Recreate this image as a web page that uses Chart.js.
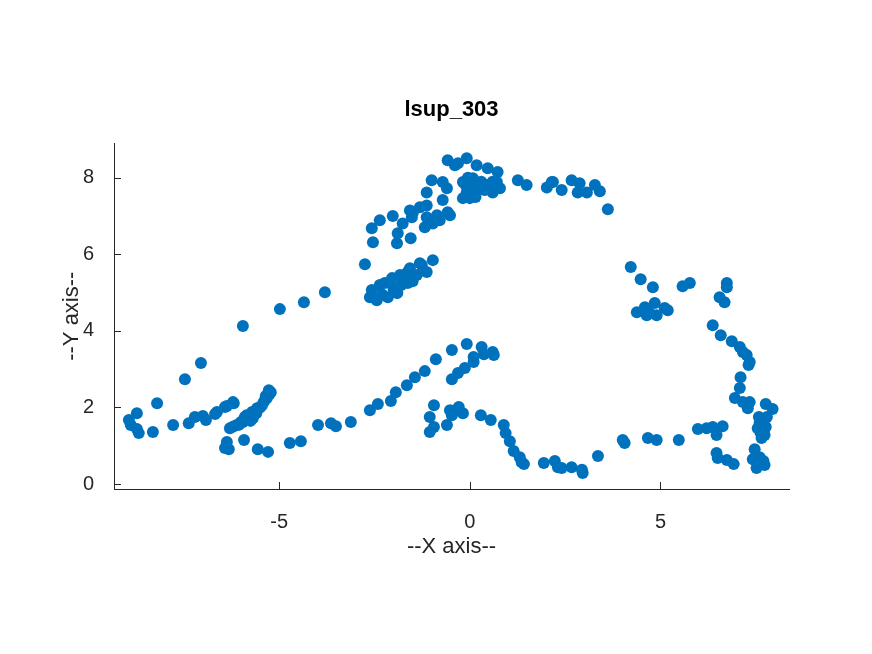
<!DOCTYPE html>
<html>
<head>
<meta charset="utf-8">
<script src="https://cdn.jsdelivr.net/npm/chart.js@4/dist/chart.umd.min.js"></script>
<style>html,body{margin:0;padding:0;background:#fff;}canvas{display:block;}</style>
</head>
<body>
<canvas id="c" width="872" height="654" style="width:872px;height:654px"></canvas>
<script>
// ---- data ----
const leftX = [-8.94,-8.89,-8.73,-8.73,-8.68,-8.31,-8.20,-7.78,-7.47,-7.05,
  -7.37,-7.21,-7.00,-6.92,-6.68,-6.63,-6.42,-6.37,-6.21,-6.19,
  -5.95,-6.29,-6.11,-5.95,-5.82,-5.69,-5.71,-5.58,-5.45,-5.32,
  -5.27,-5.22,-6.37,-6.42,-6.32,-5.92,-5.56,-5.29,-4.72,-4.43,
  -3.98,-3.64,-3.51,-3.12,-4.98,-4.35,-3.80,
  -6.20,-6.05,-5.90,-5.85,-5.75,-5.60,-5.50,-5.40,-5.35,-5.25,-6.00];
const leftY = [1.67,1.54,1.85,1.44,1.33,1.36,2.11,1.54,2.74,3.16,
  1.59,1.75,1.78,1.67,1.83,1.88,2.01,2.04,2.14,2.11,
  4.13,1.46,1.54,1.62,1.72,1.72,1.88,1.98,2.06,2.25,
  2.45,2.40,1.10,0.94,0.91,1.15,0.91,0.84,1.07,1.12,
  1.54,1.59,1.51,1.62,4.57,4.75,5.01,
  1.50,1.55,1.75,1.80,1.65,1.85,2.00,2.15,2.30,2.35,1.62];

const lowerX = [-2.62,-2.41,-2.07,-1.94,-1.65,-1.44,-1.18,-0.89,-0.47,-0.08,
  0.31,0.37,0.60,0.63,0.10,0.10,-0.13,-0.31,-0.47,-0.94,
  -1.05,-0.94,-1.05,-0.60,-0.52,-0.47,-0.29,-0.18,0.29,0.55,
  0.89,0.94,1.05,1.15,1.31,1.36,1.42,1.94,2.23,2.31,
  2.41,2.67,2.94,2.96,3.36,4.01,4.06,4.67,4.90,5.48];
const lowerY = [1.93,2.09,2.17,2.40,2.58,2.79,2.95,3.26,3.50,3.66,
  3.58,3.39,3.45,3.37,3.32,3.19,3.03,2.90,2.74,2.06,
  1.75,1.49,1.36,1.54,1.93,1.80,2.01,1.85,1.80,1.67,
  1.54,1.33,1.12,0.86,0.70,0.57,0.52,0.55,0.60,0.44,
  0.42,0.44,0.37,0.29,0.73,1.15,1.07,1.20,1.15,1.15];

const rightX = [5.98,6.21,6.37,6.63,6.47,6.47,6.50,6.74,6.92,7.47,
  7.42,7.55,7.68,7.52,7.73,6.37,6.58,6.87,7.08,7.16,
  7.26,7.34,7.31,7.10,7.08,6.95,7.16,7.34,7.29,7.76,
  7.94,7.58,7.79,7.55,7.73,7.65,7.76,
  7.60,7.70,7.62,7.70,7.60,7.70];
const rightY = [1.44,1.46,1.49,1.51,1.28,0.81,0.68,0.63,0.52,0.91,
  0.65,0.50,0.55,0.42,0.50,4.15,3.89,3.73,3.58,3.45,
  3.37,3.19,3.11,2.79,2.51,2.25,2.14,2.14,1.98,2.09,
  1.96,1.75,1.75,1.46,1.28,1.20,1.49,
  1.60,1.40,1.35,1.65,0.70,0.60];

const upperRightX = [4.22,4.48,4.80,5.58,5.77,6.74,6.74,6.55,6.68,4.38,4.59,4.85,5.11,5.19,4.72,4.90,4.64];
const upperRightY = [5.67,5.35,5.14,5.17,5.25,5.25,5.14,4.88,4.75,4.49,4.62,4.73,4.60,4.54,4.46,4.41,4.41];

const arcRightX = [2.15,2.41,2.67,2.88,2.83,3.07,3.28,3.41,3.62,1.26,1.49,2.02,2.18];
const arcRightY = [7.89,7.68,7.94,7.86,7.62,7.62,7.81,7.65,7.18,7.94,7.81,7.75,7.89];

const arcLeftX = [-0.58,-0.31,-0.08,-0.39,0.18,0.47,0.73,-1.00,-0.71,-0.60,
  -0.18,0.08,0.18,-0.08,-0.18,0.00,0.45,0.71,0.79,0.60,
  0.39,-1.13,-0.71,-0.58,-0.52,-1.13,-1.31,-1.49,-1.13,-0.86,
  -1.57,-1.52,-2.02,-2.36,-2.57,-1.76,-1.89,-1.18,-0.97,-0.79,
  -1.55,-1.91,-2.54,-2.75,-1.26,-1.13,-1.39,-1.63,-1.83,-2.04,
  -2.23,-2.36,-2.57,-2.62,-2.44,-2.15,-1.91,-1.63,-1.70,-0.97,
  -1.31,-1.57,
  0.00,0.10,-0.10,0.25,0.30,-0.05,0.55,0.60,0.15,
  -2.00,-1.80,-1.60,-1.90,-2.30,-1.50,-1.75];
const arcLeftY = [8.46,8.38,8.51,8.33,8.33,8.25,8.15,7.94,7.89,7.73,
  7.89,7.99,7.81,7.62,7.47,7.47,7.81,7.89,7.73,7.62,
  7.68,7.62,7.42,7.10,7.02,7.28,7.23,7.10,6.97,7.02,
  7.15,6.97,7.00,6.89,6.68,6.81,6.55,6.71,6.81,6.89,
  6.42,6.29,6.32,5.74,5.72,5.54,5.46,5.54,5.46,5.38,
  5.25,5.20,5.07,4.88,4.80,4.88,4.99,5.25,5.33,5.85,
  5.77,5.64,
  7.60,7.70,7.80,7.75,7.90,8.00,7.75,7.90,7.50,
  5.10,5.20,5.40,5.00,4.95,5.30,5.35];

const xTickValues = [-5, 0, 5];
const yTickValues = [0, 2, 4, 6, 8];
const xRange = [-9.33, 8.37];
const yRange = [-0.13, 8.9];
const chartTitle = 'lsup_303';
const xLabel = '--X axis--';
const yLabel = '--Y axis--';

// ---- build points ----
const groupsX = [leftX, lowerX, rightX, upperRightX, arcRightX, arcLeftX];
const groupsY = [leftY, lowerY, rightY, upperRightY, arcRightY, arcLeftY];
const points = [];
groupsX.forEach((gx, gi) => gx.forEach((v, i) => points.push({x: v, y: groupsY[gi][i]})));

const FONT = '"Liberation Sans", Arial, Helvetica, sans-serif';
const AXIS_COLOR = '#262626';

const tickMarks = {
  id: 'tickMarks',
  afterDraw(chart) {
    const {ctx, chartArea: a, scales: {x, y}} = chart;
    ctx.save();
    ctx.strokeStyle = AXIS_COLOR;
    ctx.lineWidth = 1;
    ctx.beginPath();
    x.ticks.forEach(t => {
      const px = Math.round(x.getPixelForValue(t.value)) + 0.5;
      ctx.moveTo(px, a.bottom);
      ctx.lineTo(px, a.bottom - 7);
    });
    y.ticks.forEach(t => {
      const py = Math.round(y.getPixelForValue(t.value)) + 0.5;
      ctx.moveTo(a.left, py);
      ctx.lineTo(a.left + 7, py);
    });
    ctx.stroke();
    ctx.restore();
  }
};

new Chart(document.getElementById('c'), {
  type: 'scatter',
  data: {
    datasets: [{
      data: points,
      backgroundColor: '#0072BD',
      borderColor: '#0072BD',
      borderWidth: 0,
      pointRadius: 6,
      pointHoverRadius: 6
    }]
  },
  options: {
    responsive: false,
    animation: false,
    devicePixelRatio: 1,
    events: [],
    layout: {padding: {left: 0, right: 83, top: 0, bottom: 0}},
    plugins: {
      legend: {display: false},
      tooltip: {enabled: false},
      title: {
        display: true,
        text: chartTitle,
        fullSize: false,
        color: '#000',
        font: {family: FONT, size: 22, weight: 'bold'},
        padding: {top: 97, bottom: 20}
      }
    },
    scales: {
      x: {
        type: 'linear',
        min: xRange[0],
        max: xRange[1],
        afterBuildTicks: s => { s.ticks = xTickValues.map(v => ({value: v})); },
        afterFit: s => { s.height = 165; },
        grid: {display: false},
        border: {display: true, color: AXIS_COLOR, width: 1},
        ticks: {color: AXIS_COLOR, font: {family: FONT, size: 20}, padding: 13, maxRotation: 0},
        title: {display: true, text: xLabel, color: AXIS_COLOR, font: {family: FONT, size: 22}, padding: {top: 0, bottom: 94}}
      },
      y: {
        type: 'linear',
        min: yRange[0],
        max: yRange[1],
        afterBuildTicks: s => { s.ticks = yTickValues.map(v => ({value: v})); },
        afterFit: s => { s.width = 114; },
        grid: {display: false},
        border: {display: true, color: AXIS_COLOR, width: 1},
        ticks: {color: AXIS_COLOR, font: {family: FONT, size: 20}, padding: 12},
        title: {display: true, text: yLabel, color: AXIS_COLOR, font: {family: FONT, size: 22}, padding: {top: 59, bottom: 0}}
      }
    }
  },
  plugins: [tickMarks]
});
</script>
</body>
</html>
